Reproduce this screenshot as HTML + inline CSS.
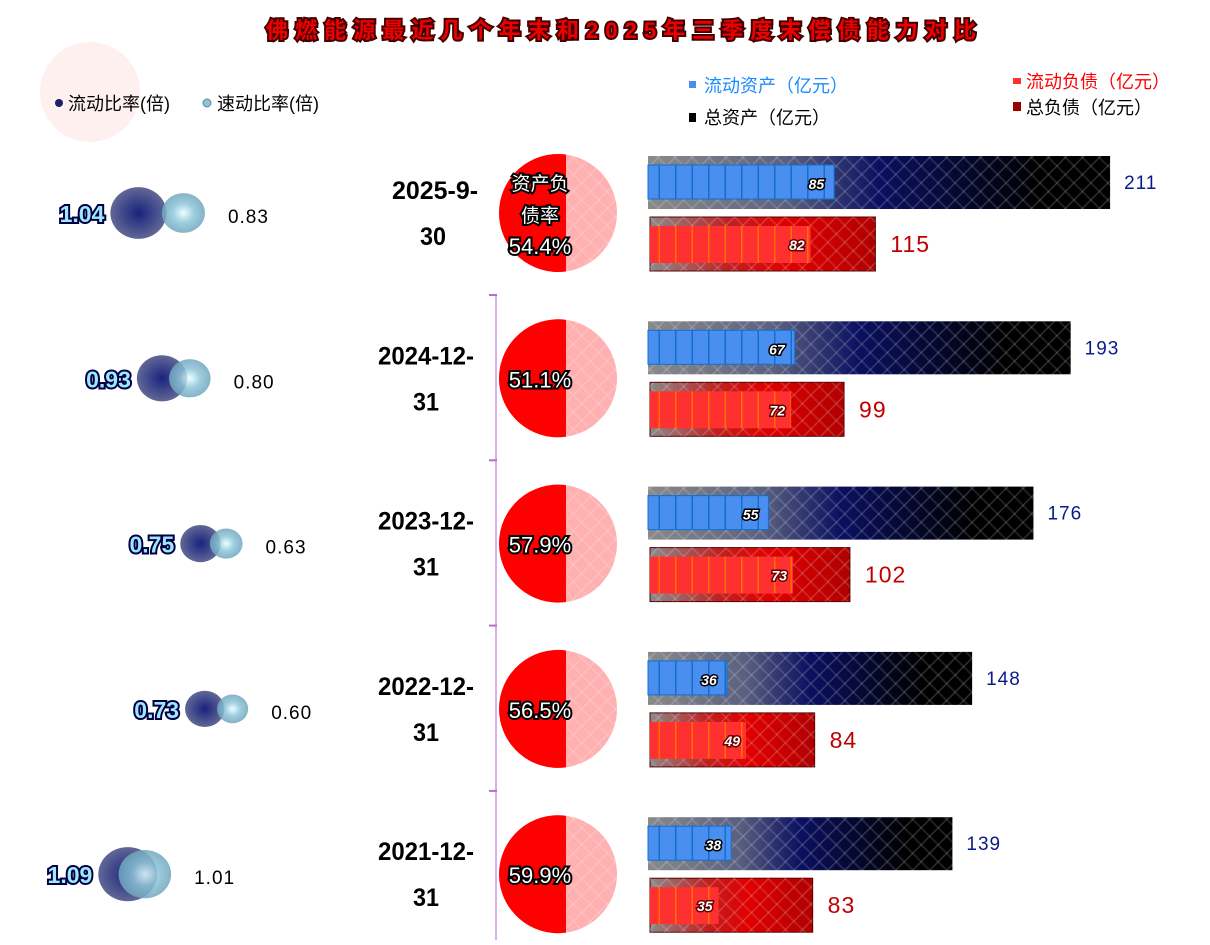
<!DOCTYPE html>
<html><head><meta charset="utf-8">
<style>
html,body{margin:0;padding:0;background:#fff;}
svg{display:block;font-family:"Liberation Sans","Noto Sans CJK SC",sans-serif;}
</style></head>
<body>
<svg id="chart" width="1210" height="945" viewBox="0 0 1210 945">
<defs>
<pattern id="hatch" width="12" height="12" patternUnits="userSpaceOnUse" patternTransform="rotate(45)">
<rect width="12" height="12" fill="none"/>
<line x1="0" y1="0" x2="0" y2="12" stroke="rgba(255,255,255,0.18)" stroke-width="3"/>
<line x1="0" y1="6" x2="12" y2="6" stroke="rgba(255,255,255,0.12)" stroke-width="2"/>
</pattern>
<linearGradient id="gAsset" x1="0" x2="1">
<stop offset="0" stop-color="#8a8a8a"/><stop offset="0.3" stop-color="#5a6080"/><stop offset="0.5" stop-color="#0a1060"/><stop offset="0.85" stop-color="#000"/><stop offset="1" stop-color="#000"/>
</linearGradient>
<linearGradient id="gLiab" x1="0" x2="1">
<stop offset="0" stop-color="#8a8a8a"/><stop offset="0.35" stop-color="#c02020"/><stop offset="0.6" stop-color="#e00000"/><stop offset="1" stop-color="#b00000"/>
</linearGradient>
<radialGradient id="gCur"><stop offset="0" stop-color="#000a70"/><stop offset="1" stop-color="#50578a"/></radialGradient>
<radialGradient id="gQuick"><stop offset="0" stop-color="#e8ffff"/><stop offset="0.5" stop-color="#8cc4d8"/><stop offset="1" stop-color="#6fa6bc"/></radialGradient>
<pattern id="stripeB" width="16.5" height="10" patternUnits="userSpaceOnUse"><rect width="16.5" height="10" fill="#4a8ef0"/><rect x="15" width="1.5" height="10" fill="#1070d0"/></pattern>
<pattern id="stripeR" width="16.5" height="10" patternUnits="userSpaceOnUse"><rect width="16.5" height="10" fill="#ff3030"/><rect x="15" width="1.5" height="10" fill="#ff7000"/></pattern>
</defs>
<circle cx="90" cy="92" r="50" fill="#fff0f0"/>
<text x="621" y="38" text-anchor="middle" font-size="22" font-weight="bold" fill="#e00" stroke="#400" stroke-width="4" paint-order="stroke" textLength="710" lengthAdjust="spacing">佛燃能源最近几个年末和2025年三季度末偿债能力对比</text>
<g>
<circle cx="59" cy="103" r="4" fill="#1a1f70"/>
<text x="68" y="110" font-size="18" fill="#000">流动比率(倍)</text>
<circle cx="207" cy="103" r="4" fill="#8cc4d8" stroke="#5a8aa0"/>
<text x="217" y="110" font-size="18" fill="#000">速动比率(倍)</text>
</g>
<g>
<rect x="689" y="81" width="7" height="7" fill="#4a8ef0"/>
<text x="704" y="92" font-size="18" fill="#1a8cff">流动资产（亿元）</text>
<rect x="689" y="113" width="7" height="9" fill="#000"/>
<text x="704" y="124" font-size="18" fill="#000">总资产（亿元）</text>
<rect x="1013" y="78" width="8" height="6" fill="#ff3030"/>
<text x="1026" y="88" font-size="18" fill="#f00">流动负债（亿元）</text>
<rect x="1013" y="102" width="8" height="9" fill="#900"/>
<text x="1026" y="114" font-size="18" fill="#000">总负债（亿元）</text>
</g>
<g id="axisline"></g>
<g id="rows"></g>
</svg>
<script>
const dates = ["2025-9-30","2024-12-31","2023-12-31","2022-12-31","2021-12-31"];
const currentRatio = [1.04,0.93,0.75,0.73,1.09];
const quickRatio = [0.83,0.80,0.63,0.60,1.01];
const debtRatio = [54.4,51.1,57.9,56.5,59.9];
const currentAssets = [85,67,55,36,38];
const totalAssets = [211,193,176,148,139];
const currentLiab = [82,72,73,49,35];
const totalLiab = [115,99,102,84,83];

const NS="http://www.w3.org/2000/svg";
const rowsG=document.getElementById('rows');
function mk(tag,attrs,parent,text){const e=document.createElementNS(NS,tag);for(const k in attrs)e.setAttribute(k,attrs[k]);if(text!==undefined)e.textContent=text;parent.appendChild(e);return e;}
const rowY=i=>213+i*165.3;
const ratioX=v=>361-214*v;
const assetX=v=>648+v*2.19;
const liabX=v=>650+v*1.96;

const ax=document.getElementById('axisline');
mk('line',{x1:496,y1:295,x2:496,y2:940,stroke:'#d8b0f0','stroke-width':2},ax);
for(let i=0;i<4;i++){mk('line',{x1:489,x2:497,y1:rowY(i)+82,y2:rowY(i)+82,stroke:'#b070d0','stroke-width':2},ax);}

dates.forEach((d,i)=>{
  const cy=rowY(i);
  const g=mk('g',{},rowsG);
  
  
  const cx=ratioX(currentRatio[i]), rc=27*currentRatio[i];
  const qx=ratioX(quickRatio[i]), rq=26*quickRatio[i];
  const c1=mk('ellipse',{cx:cx,cy:cy,rx:rc,ry:rc*0.92,fill:'url(#gCur)',opacity:0.9},g);
  
  
  const c2=mk('ellipse',{cx:qx,cy:cy,rx:rq,ry:rq*0.92,fill:'url(#gQuick)',opacity:0.85},g);
  
  
  const t1=mk('text',{x:cx-rc-6,y:cy+9,'text-anchor':'end','font-size':23,'font-weight':'bold',fill:'#9ee8ff',stroke:'#000040','stroke-width':4,'paint-order':'stroke'},g,currentRatio[i].toFixed(2));
  
  
  const t2=mk('text',{x:qx+rq+23,y:cy+10,'font-size':19,fill:'#000','letter-spacing':1},g,quickRatio[i].toFixed(2));
  
  
  const parts=d.split('-');
  const l1=parts[0]+'-'+parts[1]+'-';
  const dt=mk('text',{x:i===0?435:426,y:cy-14,'text-anchor':'middle','font-size':25,'font-weight':'bold',fill:'#000',textLength:i===0?86:96,lengthAdjust:'spacingAndGlyphs'},g,l1);
  
  
  const dt2=mk('text',{x:i===0?433:426,y:cy+32,'text-anchor':'middle','font-size':25,'font-weight':'bold',fill:'#000',textLength:26,lengthAdjust:'spacingAndGlyphs'},g,parts[2]);
  
  
  const px=558,r=59;
  const pc=mk('circle',{cx:px,cy:cy,r:r,fill:'#ffb0b0'},g);
  
  
  mk('circle',{cx:px,cy:cy,r:r,fill:'url(#hatch)'},g);
  const sx=px+8, dy=Math.sqrt(r*r-64);
  mk('path',{d:`M${sx},${cy-dy} A${r},${r} 0 1 0 ${sx},${cy+dy} Z`,fill:'#f00'},g);
  if(i===0){
    mk('text',{x:px-18,y:cy-23,'text-anchor':'middle','font-size':19,fill:'#fff',stroke:'#000','stroke-width':4,'paint-order':'stroke'},g,'资产负');
    mk('text',{x:px-18,y:cy+9,'text-anchor':'middle','font-size':19,fill:'#fff',stroke:'#000','stroke-width':4,'paint-order':'stroke'},g,'债率');
  }
  const pt=mk('text',{x:px-18,y:i===0?cy+41:cy+9,'text-anchor':'middle','font-size':22,fill:'#fff',stroke:'#000','stroke-width':4,'paint-order':'stroke'},g,debtRatio[i].toFixed(1)+'%');
  
  
  const ay=cy-57;
  const ta=mk('rect',{x:648,y:ay,width:assetX(totalAssets[i])-648,height:53,fill:'url(#gAsset)'},g);
  
  
  mk('rect',{x:648,y:ay,width:assetX(totalAssets[i])-648,height:53,fill:'url(#hatch)'},g);
  const ca=mk('rect',{x:648,y:ay+9,width:assetX(currentAssets[i])-648,height:34,fill:'url(#stripeB)',stroke:'#1070d0'},g);
  
  
  mk('text',{x:assetX(currentAssets[i])-10,y:ay+33,'text-anchor':'end','font-size':14,'font-weight':'bold','font-style':'italic',fill:'#fff',stroke:'#000','stroke-width':3,'paint-order':'stroke'},g,currentAssets[i]);
  const tav=mk('text',{x:assetX(totalAssets[i])+14,y:ay+33,'font-size':19,fill:'#0a1a8c','letter-spacing':1},g,totalAssets[i]);
  
  
  const ly=cy+4;
  const tl=mk('rect',{x:650,y:ly,width:liabX(totalLiab[i])-650,height:54,fill:'url(#gLiab)',stroke:'#500','stroke-width':1},g);
  
  
  mk('rect',{x:650,y:ly,width:liabX(totalLiab[i])-650,height:54,fill:'url(#hatch)'},g);
  const cl=mk('rect',{x:650,y:ly+9,width:liabX(currentLiab[i])-650,height:37,fill:'url(#stripeR)'},g);
  
  
  mk('text',{x:liabX(currentLiab[i])-6,y:ly+33,'text-anchor':'end','font-size':14,'font-weight':'bold','font-style':'italic',fill:'#fff',stroke:'#600','stroke-width':3,'paint-order':'stroke'},g,currentLiab[i]);
  const tlv=mk('text',{x:liabX(totalLiab[i])+15,y:ly+35,'font-size':23,fill:'#c00000','letter-spacing':1},g,totalLiab[i]);
  
  
});
</script>
</body></html>
